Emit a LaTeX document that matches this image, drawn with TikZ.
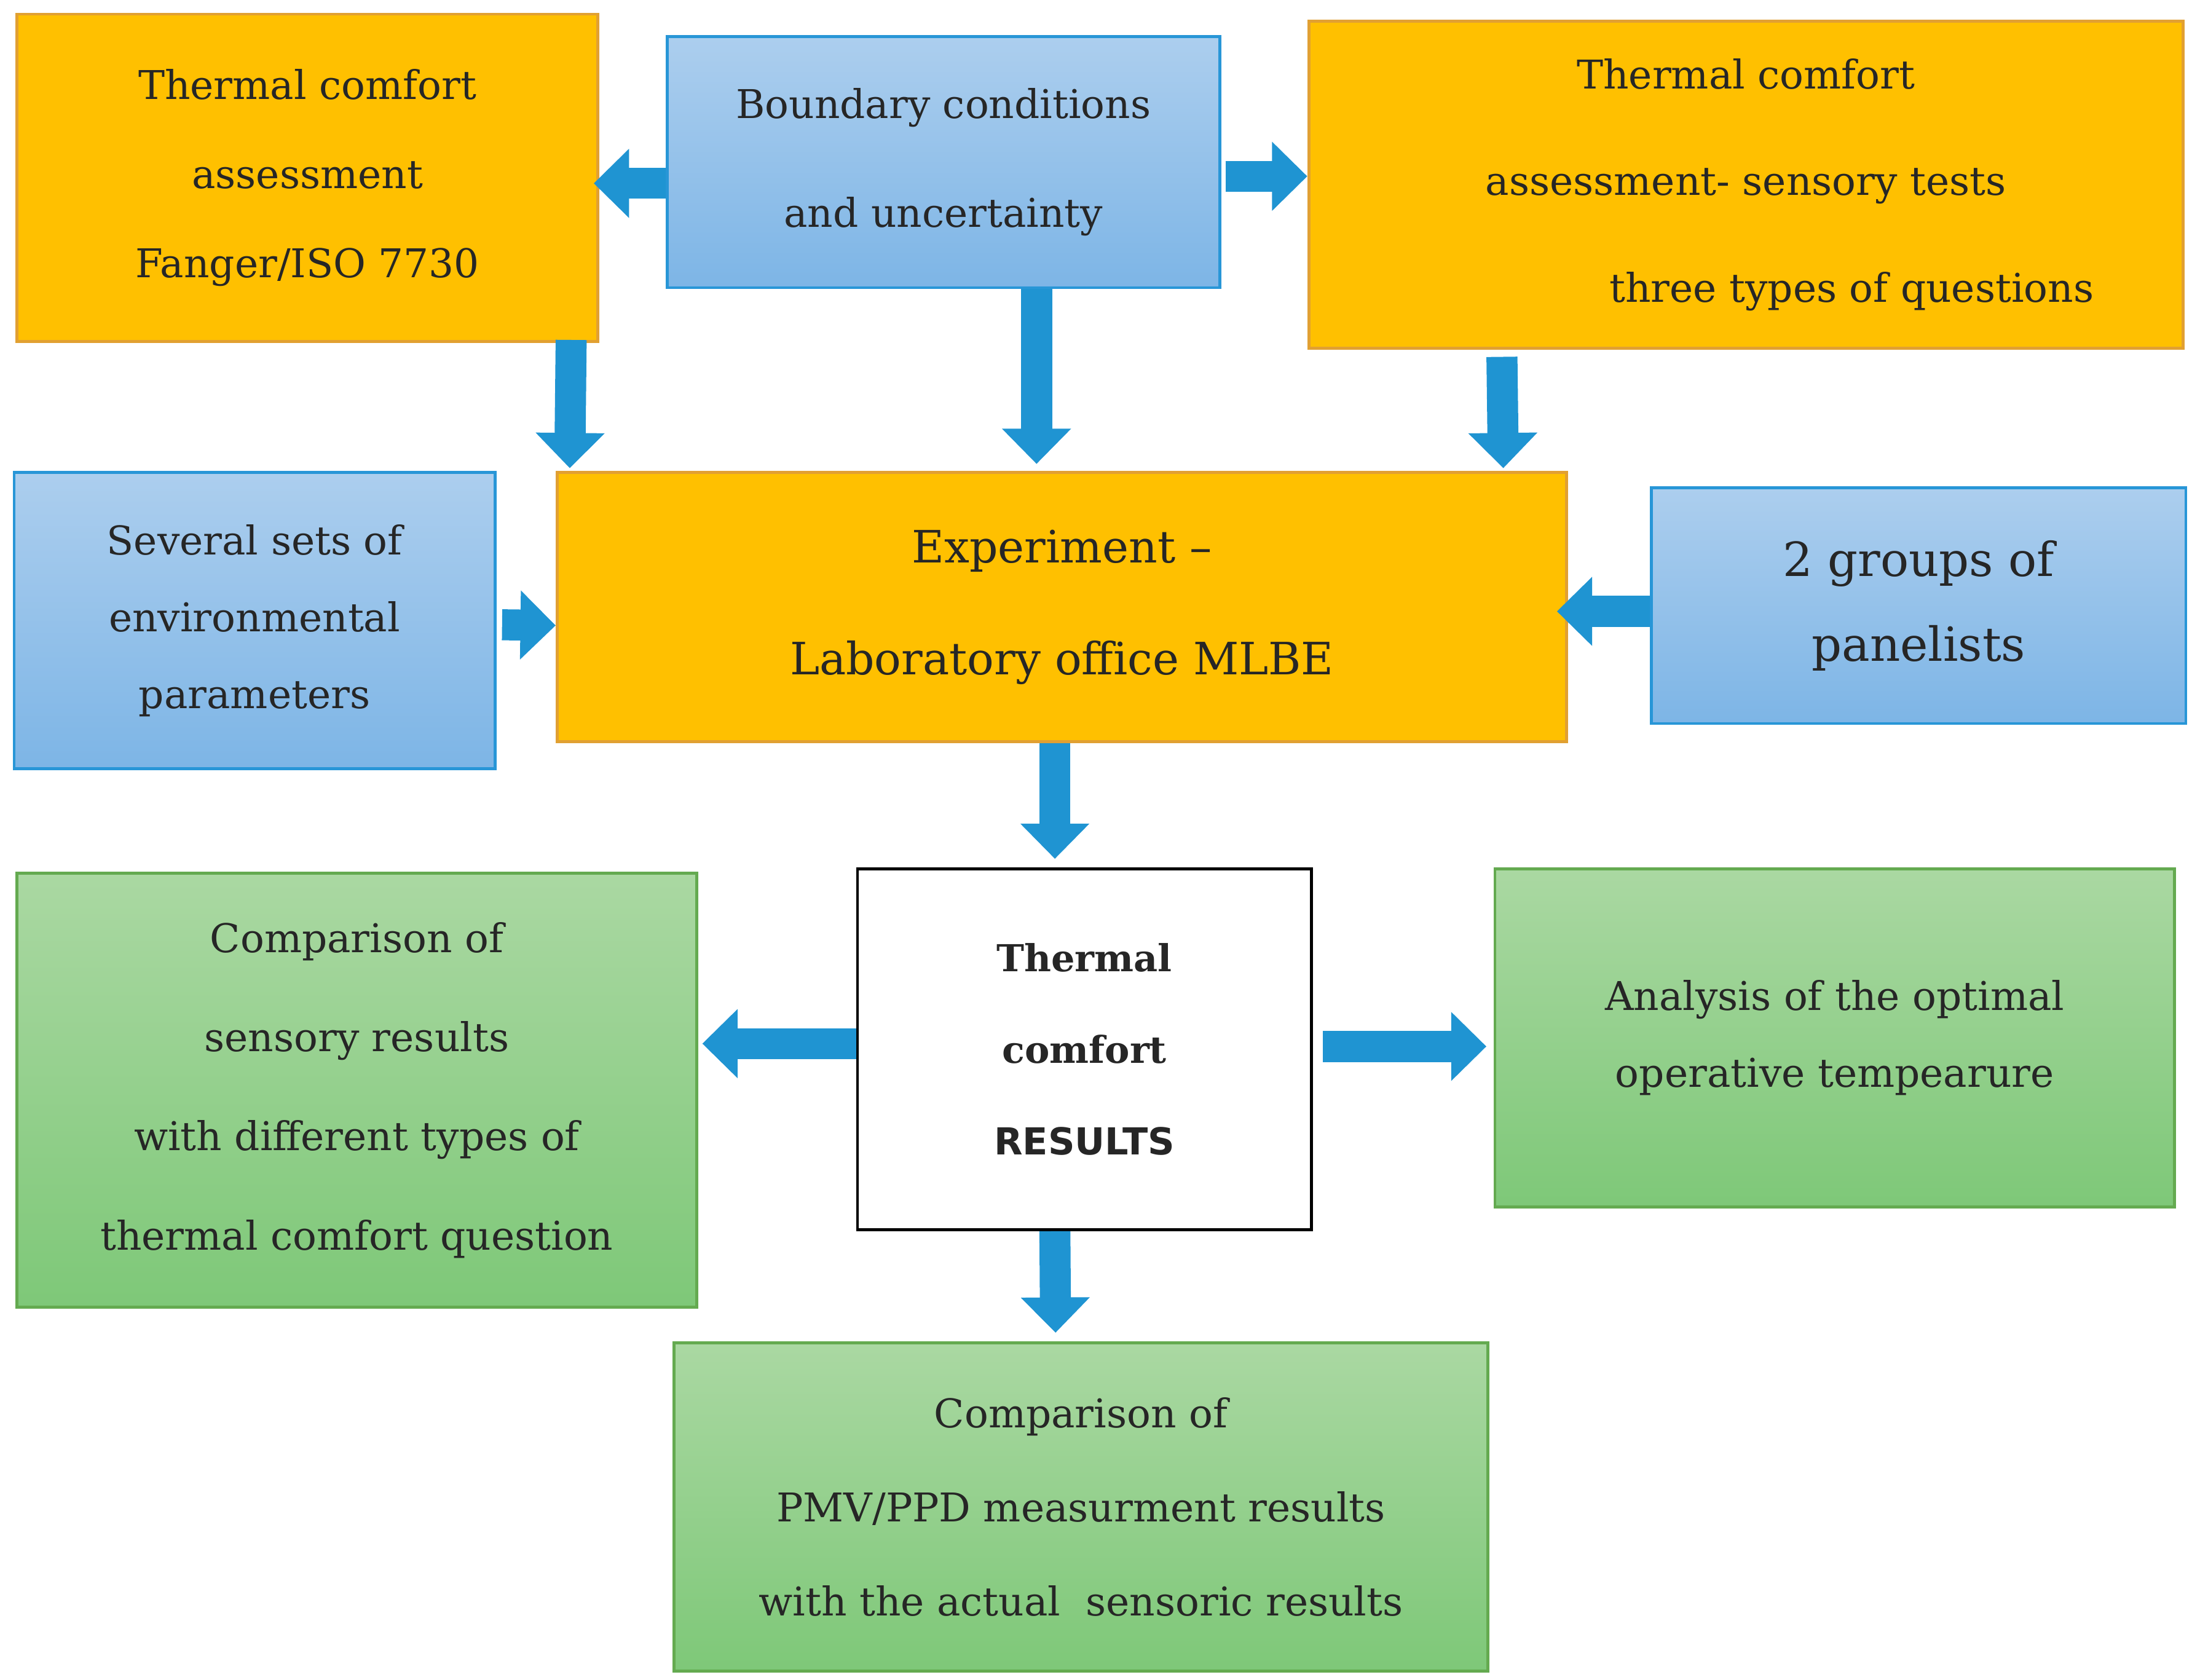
\documentclass[tikz,border=0pt]{standalone}
\usepackage{fontspec}
\setmainfont{DejaVu Serif}
\newfontfamily\rsans{DejaVu Sans}
\usetikzlibrary{arrows.meta,calc}
\definecolor{arrblue}{HTML}{1F94D2}
\begin{document}
\begin{tikzpicture}[x=0.02cm,y=-0.02cm,
 box/.style={draw,line width=1.2pt,inner sep=0pt,align=center,text=black!85},
 orange/.style={box,fill={rgb,255:red,255;green,192;blue,0},draw={rgb,255:red,225;green,160;blue,50}},
 blue/.style={box,top color={rgb,255:red,172;green,206;blue,238},bottom color={rgb,255:red,125;green,181;blue,230},draw={rgb,255:red,40;green,150;blue,215}},
 green/.style={box,top color={rgb,255:red,170;green,216;blue,162},bottom color={rgb,255:red,126;green,200;blue,120},draw={rgb,255:red,100;green,170;blue,80}},
 white/.style={box,fill=white,draw=black},
 arr/.style={draw=arrblue,line width=0.44cm,-{Triangle[width=0.95cm,length=0.5cm]}}]
\useasboundingbox (0,0) rectangle (1560,1191);
\node[orange,minimum width=8.24cm,minimum height=4.64cm,font=\fontsize{16}{36}\selectfont] (b1) at (218,126) {Thermal comfort\\assessment\\Fanger/ISO 7730};
\node[blue,minimum width=7.84cm,minimum height=3.56cm,font=\fontsize{16}{44}\selectfont] (b2) at (669,115) {Boundary conditions\\and uncertainty};
\node[orange,minimum width=12.4cm,minimum height=4.64cm,font=\fontsize{16}{43}\selectfont] (b3) at (1238,131) {Thermal comfort\\assessment- sensory tests\\\hspace*{3cm}three types of questions};
\node[blue,minimum width=6.82cm,minimum height=4.2cm,font=\fontsize{16}{31}\selectfont] (b4) at (180.5,440) {Several sets of\\environmental\\parameters};
\node[orange,minimum width=14.32cm,minimum height=3.82cm,font=\fontsize{18}{45}\selectfont] (b5) at (753,430.5) {Experiment --\\Laboratory office MLBE};
\node[blue,minimum width=7.58cm,minimum height=3.34cm,font=\fontsize{19}{34}\selectfont] (b6) at (1360.5,429.5) {2 groups of\\panelists};
\node[white,minimum width=6.44cm,minimum height=5.12cm,font=\fontsize{15}{37}\selectfont\bfseries] (b7) at (769,744) {Thermal\\comfort\\{\rsans RESULTS}};
\node[green,minimum width=9.64cm,minimum height=6.16cm,font=\fontsize{16}{40}\selectfont] (b8) at (253,773) {Comparison of\\sensory results\\with different types of\\thermal comfort question};
\node[green,minimum width=9.64cm,minimum height=4.8cm,font=\fontsize{16}{31}\selectfont] (b9) at (1301,736) {Analysis of the optimal\\operative tempearure};
\node[green,minimum width=11.54cm,minimum height=4.66cm,font=\fontsize{16}{38}\selectfont] (b10) at (766.5,1068.5) {Comparison of\\PMV/PPD measurment results\\with the actual\ \ sensoric results};
\draw[arr] ($(b2.west)+(0,15)$) -- ($(b1.east)+(-4,4)$);
\draw[arr] ($(b2.east)+(3,10)$) -- ($(b3.west)+(0,-6)$);
\draw[arr] ($(b2.south)+(66,0)$) -- ($(b5.north)+(-18,-5)$);
\draw[arr] ($(b1.south)+(187,-2)$) -- ($(b5.north west)+(10,-2)$);
\draw[arr] ($(b3.south)+(-173,5)$) -- ($(b5.north east)+(-46,-2)$);
\draw[arr] ($(b4.east)+(4,3)$) -- ($(b5.west)+(0,13)$);
\draw[arr] ($(b6.west)+(0,4)$) -- ($(b5.east)+(-8,3)$);
\draw[arr] ($(b5.south)+(-5,0)$) -- ($(b7.north)+(-21,-6)$);
\draw[arr] ($(b7.west)+(0,-4)$) -- ($(b8.east)+(3,-33)$);
\draw[arr] ($(b7.east)+(7,-2)$) -- ($(b9.west)+(-5,6)$);
\draw[arr] ($(b7.south)+(-21,0)$) -- ($(b10.north)+(-18,-6)$);
\end{tikzpicture}
\end{document}
